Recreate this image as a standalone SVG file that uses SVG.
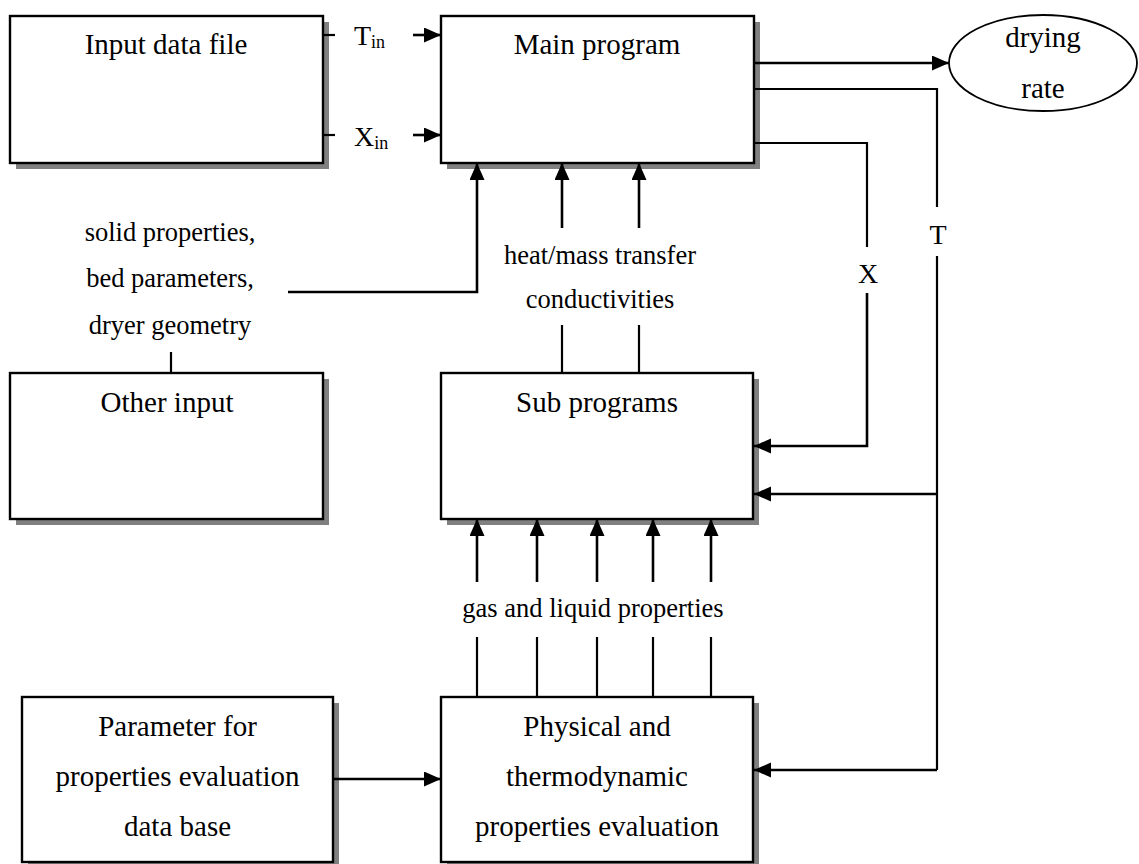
<svg xmlns="http://www.w3.org/2000/svg" width="1139" height="864" viewBox="0 0 1139 864" font-family="'Liberation Serif', 'Times New Roman', Times, serif">
<style>
text{font-family:'Liberation Serif','Times New Roman',Times,serif;fill:#000}
.t{font-size:29px;text-anchor:middle}
.l{font-size:26.5px;text-anchor:middle}
.s{font-size:28px}
.sub{font-size:18px}
.box{fill:#fff;stroke:#000;stroke-width:2.4}
.sh{fill:#808080}
.c{fill:none;stroke:#000;stroke-width:2.2}
.a{fill:none;stroke:#000;stroke-width:2.6;marker-end:url(#ah)}
</style>
<defs>
<marker id="ah" markerUnits="userSpaceOnUse" markerWidth="18" markerHeight="16" refX="17" refY="7.5" orient="auto">
<path d="M0,0 L17,7.5 L0,15 z" fill="#000"/>
</marker>
</defs>
<rect width="1139" height="864" fill="#fff"/>
<g id="input-data-file">
<rect class="sh" x="16" y="22" width="313" height="147"/>
<rect class="box" x="10" y="16" width="313" height="147"/>
<text class="t" x="166" y="54">Input data file</text>
</g>
<g id="main-program">
<rect class="sh" x="447" y="22" width="313" height="147"/>
<rect class="box" x="441" y="16" width="313" height="147"/>
<text class="t" x="597" y="54">Main program</text>
</g>
<g id="drying-rate">
<ellipse cx="1043" cy="63" rx="94" ry="48" fill="#fff" stroke="#000" stroke-width="1.8"/>
<text class="t" x="1043" y="47">drying</text>
<text class="t" x="1043" y="98">rate</text>
</g>
<g id="other-input">
<rect class="sh" x="16" y="379" width="313" height="146"/>
<rect class="box" x="10" y="373" width="313" height="146"/>
<text class="t" x="167" y="412">Other input</text>
</g>
<g id="sub-programs">
<rect class="sh" x="447" y="379" width="312" height="146"/>
<rect class="box" x="441" y="373" width="312" height="146"/>
<text class="t" x="597" y="412">Sub programs</text>
</g>
<g id="parameter-database">
<rect class="sh" x="28" y="703" width="311" height="165"/>
<rect class="box" x="22" y="697" width="311" height="165"/>
<text class="t" x="177.5" y="736">Parameter for</text>
<text class="t" x="177.5" y="786">properties evaluation</text>
<text class="t" x="177.5" y="836">data base</text>
</g>
<g id="physical-evaluation">
<rect class="sh" x="447" y="703" width="312" height="165"/>
<rect class="box" x="441" y="697" width="312" height="165"/>
<text class="t" x="597" y="736">Physical and</text>
<text class="t" x="597" y="786">thermodynamic</text>
<text class="t" x="597" y="836">properties evaluation</text>
</g>
<g id="connectors">
<line class="c" x1="323" y1="35" x2="335" y2="35"/>
<line class="a" x1="413" y1="35" x2="441" y2="35"/>
<line class="c" x1="323" y1="135" x2="335" y2="135"/>
<line class="a" x1="413" y1="135" x2="441" y2="135"/>
<line class="a" x1="754" y1="63" x2="949" y2="63"/>
<polyline class="c" points="754,89 937,89 937,207"/>
<polyline class="c" points="754,143 867,143 867,247"/>
<polyline class="a" points="867,293 867,446 754,446"/>
<line class="c" x1="937" y1="256" x2="937" y2="770"/>
<line class="a" x1="937" y1="494" x2="754" y2="494"/>
<line class="a" x1="937" y1="770" x2="754" y2="770"/>
<polyline class="a" points="288,292 477,292 477,163"/>
<line class="a" x1="562" y1="228" x2="562" y2="163"/>
<line class="a" x1="639" y1="228" x2="639" y2="163"/>
<line class="c" x1="562" y1="325" x2="562" y2="373"/>
<line class="c" x1="639" y1="325" x2="639" y2="373"/>
<line class="c" x1="171" y1="352" x2="171" y2="373"/>
<line class="a" x1="477" y1="582" x2="477" y2="519"/>
<line class="a" x1="537" y1="582" x2="537" y2="519"/>
<line class="a" x1="597" y1="582" x2="597" y2="519"/>
<line class="a" x1="653" y1="582" x2="653" y2="519"/>
<line class="a" x1="711" y1="582" x2="711" y2="519"/>
<line class="c" x1="477" y1="637" x2="477" y2="697"/>
<line class="c" x1="537" y1="637" x2="537" y2="697"/>
<line class="c" x1="597" y1="637" x2="597" y2="697"/>
<line class="c" x1="653" y1="637" x2="653" y2="697"/>
<line class="c" x1="711" y1="637" x2="711" y2="697"/>
<line class="a" x1="333" y1="779" x2="441" y2="779"/>
</g>
<g id="labels">
<text class="s" x="354" y="45">T<tspan class="sub" dy="3">in</tspan></text>
<text class="s" x="354" y="146">X<tspan class="sub" dy="3">in</tspan></text>
<text class="s" x="868" y="283" text-anchor="middle">X</text>
<text class="s" x="938" y="244" text-anchor="middle">T</text>
<text class="l" x="170" y="241">solid properties,</text>
<text class="l" x="170" y="287">bed parameters,</text>
<text class="l" x="170" y="334">dryer geometry</text>
<text class="l" x="600" y="264">heat/mass transfer</text>
<text class="l" x="600" y="308">conductivities</text>
<text class="l" x="593" y="617">gas and liquid properties</text>
</g>
</svg>
